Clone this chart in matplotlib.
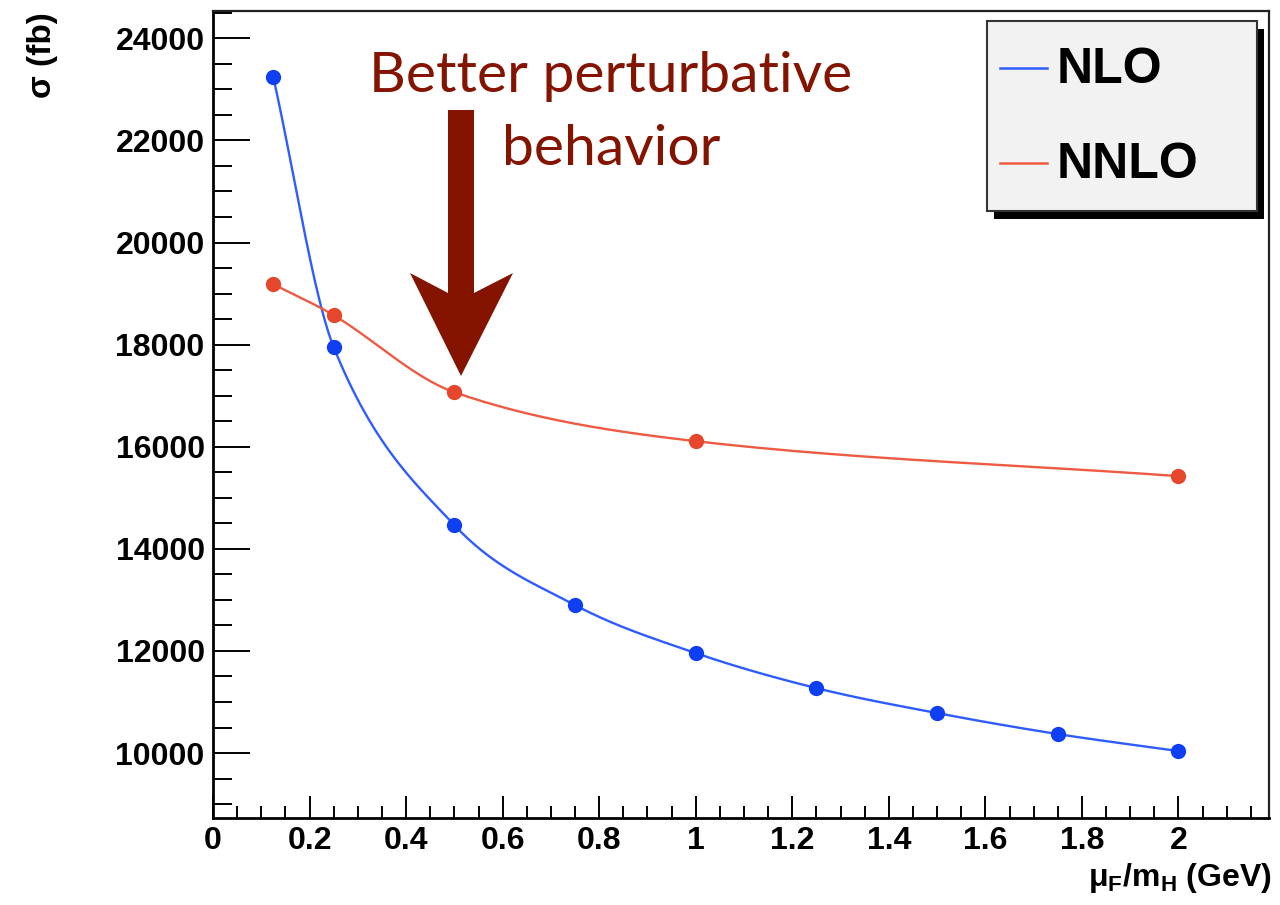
import numpy as np
import matplotlib
matplotlib.use("Agg")
import matplotlib.pyplot as plt
from matplotlib.patches import Rectangle, Polygon
from matplotlib.lines import Line2D
from matplotlib.ticker import MultipleLocator

# ---------------- data ----------------
scale_nlo = [0.125, 0.25, 0.5, 0.75, 1.0, 1.25, 1.5, 1.75, 2.0]
sigma_nlo = [23236, 17950, 14464, 12898, 11958, 11272, 10783, 10372, 10039]
scale_nnlo = [0.125, 0.25, 0.5, 1.0, 2.0]
sigma_nnlo = [19183, 18576, 17068, 16109, 15424]
x_tick_vals = [0, 0.2, 0.4, 0.6, 0.8, 1.0, 1.2, 1.4, 1.6, 1.8, 2.0]
x_tick_labels = ["0", "0.2", "0.4", "0.6", "0.8", "1", "1.2", "1.4", "1.6", "1.8", "2"]
y_tick_vals = [10000, 12000, 14000, 16000, 18000, 20000, 22000, 24000]
y_tick_labels = ["10000", "12000", "14000", "16000", "18000", "20000", "22000", "24000"]
series_names = ["NLO", "NNLO"]
annotation_lines = ["Better perturbative", "behavior"]

# ---------------- style ----------------
W, H = 1280, 905
FONT = "Liberation Sans"
plt.rcParams["font.family"] = [FONT, "DejaVu Sans"]
plt.rcParams["mathtext.fontset"] = "custom"
plt.rcParams["mathtext.rm"] = "Liberation Sans:bold"
plt.rcParams["mathtext.it"] = "Liberation Sans:bold"
plt.rcParams["mathtext.bf"] = "Liberation Sans:bold"
plt.rcParams["mathtext.default"] = "bf"

blue_line, blue_mark = "#2f5cff", "#0f3ff2"
red_line, red_mark = "#ef5a43", "#e6462c"
dark_red = "#841300"


def smooth(xs, ys, n=60):
    """Cubic Hermite (Catmull-Rom style) smoothing through the points, like ROOT's 'C' option."""
    xs = np.asarray(xs, float)
    ys = np.asarray(ys, float)
    m = np.zeros_like(ys)
    m[0] = (ys[1] - ys[0]) / (xs[1] - xs[0])
    m[-1] = (ys[-1] - ys[-2]) / (xs[-1] - xs[-2])
    m[1:-1] = (ys[2:] - ys[:-2]) / (xs[2:] - xs[:-2])
    outx, outy = [], []
    for i in range(len(xs) - 1):
        h = xs[i + 1] - xs[i]
        t = np.linspace(0, 1, n, endpoint=(i == len(xs) - 2))
        h00 = 2 * t**3 - 3 * t**2 + 1
        h10 = t**3 - 2 * t**2 + t
        h01 = -2 * t**3 + 3 * t**2
        h11 = t**3 - t**2
        outx.append(xs[i] + t * h)
        outy.append(h00 * ys[i] + h10 * h * m[i] + h01 * ys[i + 1] + h11 * h * m[i + 1])
    return np.concatenate(outx), np.concatenate(outy)


def fx(px):
    return px / W


def fy(py):
    return 1 - py / H


fig = plt.figure(figsize=(W / 100, H / 100), dpi=100)
ax = fig.add_axes([fx(213), fy(818), (1269 - 213) / W, (818 - 11) / H])

# curves
sx, sy = smooth(scale_nlo, sigma_nlo)
ax.plot(sx, sy, color=blue_line, lw=1.7, zorder=2)
ax.plot(scale_nlo, sigma_nlo, "o", color=blue_mark, ms=11, mew=0, zorder=3)
sx2, sy2 = smooth(scale_nnlo, sigma_nnlo)
ax.plot(sx2, sy2, color=red_line, lw=1.7, zorder=2)
ax.plot(scale_nnlo, sigma_nnlo, "o", color=red_mark, ms=11, mew=0, zorder=3)

ax.set_xlim(0, 2.1875)
ax.set_ylim(8728, 24535)

ax.set_xticks(x_tick_vals)
ax.set_xticklabels(x_tick_labels)
ax.set_yticks(y_tick_vals)
ax.set_yticklabels(y_tick_labels)
ax.xaxis.set_minor_locator(MultipleLocator(0.05))
ax.yaxis.set_minor_locator(MultipleLocator(500))
ax.tick_params(axis="x", which="major", direction="in", length=16, width=1.4,
               labelsize=23, pad=6, top=False)
ax.tick_params(axis="x", which="minor", direction="in", length=9, width=1.4, top=False)
ax.tick_params(axis="y", which="major", direction="in", length=26.5, width=1.4,
               labelsize=23, pad=6, right=False)
ax.tick_params(axis="y", which="minor", direction="in", length=13.5, width=1.4, right=False)
for lab in ax.get_xticklabels() + ax.get_yticklabels():
    lab.set_fontweight("bold")
for side in ["left", "bottom"]:
    ax.spines[side].set_linewidth(2.0)
for side in ["top", "right"]:
    ax.spines[side].set_linewidth(1.6)
    ax.spines[side].set_color("#222222")

# axis titles (ROOT style placement)
fig.text(fx(43), fy(12), "σ (fb)", rotation=90, ha="center", va="top",
         fontsize=24, fontweight="bold")
fig.text(fx(1272), fy(886), r"$\mu_{F}/m_{H}$ (GeV)", ha="right", va="baseline",
         fontsize=23, fontweight="bold")

# legend (ROOT TLegend with black shadow)
lx0, ly0, lx1, ly1 = 987, 21, 1257, 211
shadow = Rectangle((fx(lx0 + 7), fy(ly1 + 8)), (lx1 - lx0) / W, (ly1 - ly0) / H,
                   transform=fig.transFigure, facecolor="black", edgecolor="none", zorder=5)
box = Rectangle((fx(lx0), fy(ly1)), (lx1 - lx0) / W, (ly1 - ly0) / H,
                transform=fig.transFigure, facecolor="#f2f2f2", edgecolor="#333333",
                lw=1.5, zorder=6)
fig.add_artist(shadow)
fig.add_artist(box)
for name, col, yy in [(series_names[0], blue_line, 68), (series_names[1], red_line, 163)]:
    fig.add_artist(Line2D([fx(1000), fx(1047)], [fy(yy), fy(yy)], color=col, lw=1.8,
                          transform=fig.transFigure, zorder=7))
    fig.text(fx(1057), fy(yy + 2), name, ha="left", va="center", fontsize=36,
             fontweight="bold", zorder=7)

# annotation text and arrow
for line, base in zip(annotation_lines, [92, 165]):
    fig.text(fx(611), fy(base), line, ha="center", va="baseline", fontsize=41,
             family=["Lato", "DejaVu Sans"], color=dark_red, zorder=8)
arrow_px = [(448, 110), (474, 110), (474, 293), (513, 273), (461, 376),
            (410, 273), (448, 293)]
fig.add_artist(Polygon([(fx(a), fy(b)) for a, b in arrow_px], closed=True,
                       transform=fig.transFigure, facecolor=dark_red,
                       edgecolor="none", zorder=8))

fig.savefig("out.png", dpi=100)
